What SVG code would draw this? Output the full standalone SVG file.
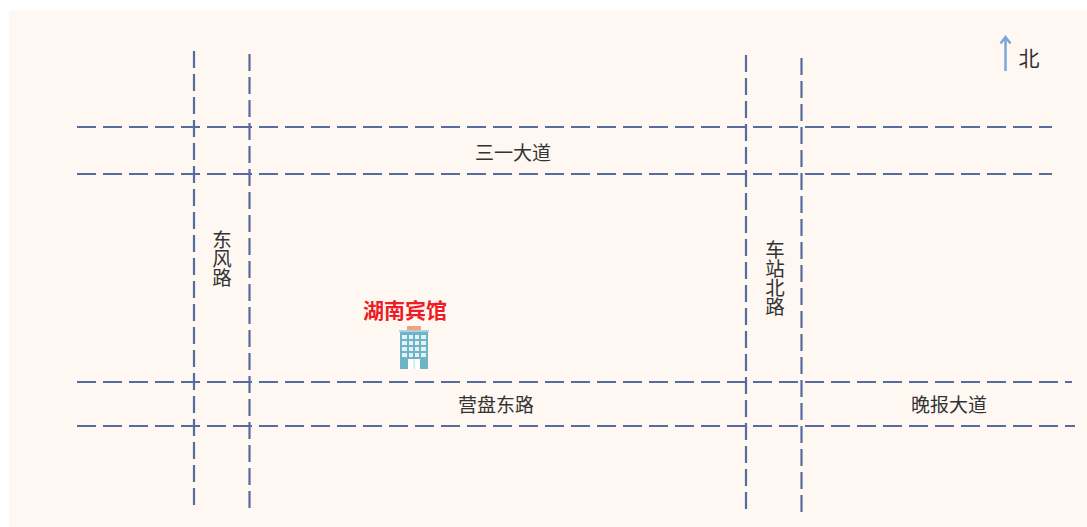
<svg xmlns="http://www.w3.org/2000/svg" width="1087" height="527" viewBox="0 0 1087 527">
<style>
.h{stroke:#566b9e;stroke-width:2.2;stroke-dasharray:19 7;fill:none}
.v{stroke:#566b9e;stroke-width:2.2;stroke-dasharray:17 6;fill:none}
text{font-family:"Noto Sans CJK SC","Noto Sans",sans-serif;fill:#333;font-size:19px;text-anchor:middle}
.vt{font-size:19.500px;writing-mode:vertical-rl;text-orientation:upright;letter-spacing:-0.500px;text-anchor:start}
</style>
<rect width="1087" height="527" fill="#fff"/>
<rect x="9" y="11" width="1078" height="516" fill="#fff8f2"/>
<g id="connectors">
<path class="h" d="M77 127H1052"/>
<path class="h" d="M77 174H1052"/>
<path class="h" d="M77 382H1072"/>
<path class="h" d="M77 426H1075"/>
<path class="v" d="M194 51V505"/>
<path class="v" d="M249.500 54V508"/>
<path class="v" d="M746 55V509"/>
<path class="v" d="M801.500 58V512"/>
</g>
<g id="road-sanyi"><text x="513" y="160">三一大道</text></g>
<g id="road-dongfeng"><text class="vt" x="222" y="230">东风路</text></g>
<g id="road-chezhan"><text class="vt" x="775" y="240">车站北路</text></g>
<g id="road-yingpan"><text x="496" y="412">营盘东路</text></g>
<g id="road-wanbao"><text x="949" y="412">晚报大道</text></g>
<g id="north">
<path d="M1005.500 71V37M1000.500 43.500L1005.500 37L1010.500 43.500" fill="none" stroke="#7ba6dd" stroke-width="2.500"/>
<text x="1029" y="66" style="font-size:21px">北</text>
</g>
<g id="hotel">
<text x="405" y="318" style="font-size:21px;font-weight:700;fill:#ee1c25">湖南宾馆</text>
<rect x="407" y="326" width="14" height="4" fill="#f0a37e"/>
<rect x="399" y="330" width="30" height="2" fill="#a9d3de"/>
<rect x="400" y="332" width="28" height="37" fill="#6fb3c6"/>
<g fill="#e4f2f5">
<rect x="402" y="335" width="5" height="4"/><rect x="409" y="335" width="4" height="4"/><rect x="415" y="335" width="4" height="4"/><rect x="421" y="335" width="5" height="4"/>
<rect x="402" y="341" width="5" height="4"/><rect x="409" y="341" width="4" height="4"/><rect x="415" y="341" width="4" height="4"/><rect x="421" y="341" width="5" height="4"/>
<rect x="402" y="347" width="5" height="4"/><rect x="409" y="347" width="4" height="4"/><rect x="415" y="347" width="4" height="4"/><rect x="421" y="347" width="5" height="4"/>
<rect x="402" y="353" width="5" height="4"/><rect x="409" y="353" width="4" height="4"/><rect x="415" y="353" width="4" height="4"/><rect x="421" y="353" width="5" height="4"/>
</g>
<rect x="408" y="359" width="12" height="10" fill="#fff"/>
<path d="M414 359V369" stroke="#b9dbe4" stroke-width="1"/>
</g>
</svg>
